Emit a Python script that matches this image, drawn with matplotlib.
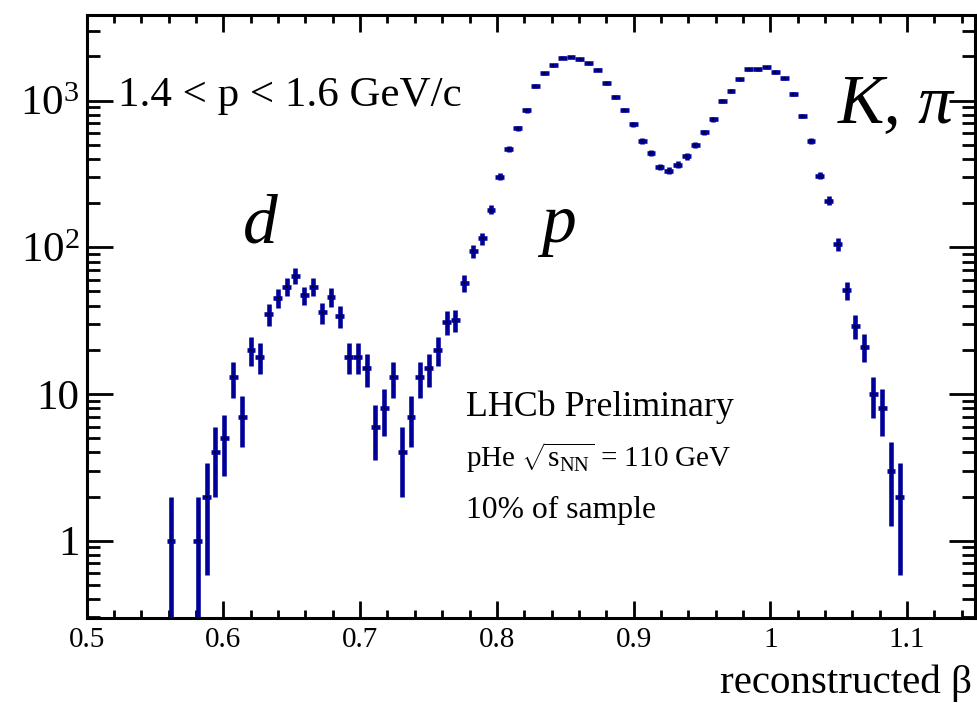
import numpy as np
import matplotlib
matplotlib.use("Agg")
import matplotlib.pyplot as plt
from matplotlib.ticker import FixedLocator, LogLocator, NullFormatter, MultipleLocator

# Histogram binning of reconstructed beta
beta_lo, beta_hi, n_bins = 0.5, 1.15, 100

# Entries per bin (1.4 < p < 1.6 GeV/c)
counts = [
    0, 0, 0, 0, 0, 0, 0, 0, 0, 1,
    0, 0, 1, 2, 4, 5, 13, 7, 20, 18,
    35, 45, 54, 64, 47, 54, 36, 46, 34, 18,
    18, 15, 6, 8, 13, 4, 7, 13, 15, 20,
    31, 32, 57, 94, 115, 181, 303, 466, 647, 859,
    1253, 1535, 1741, 1963, 1983, 1913, 1805, 1625, 1324, 1052,
    863, 689, 530, 442, 353, 333, 366, 417, 498, 608,
    746, 988, 1169, 1397, 1641, 1641, 1687, 1567, 1419, 1109,
    788, 533, 308, 208, 105, 51, 29, 21, 10, 8,
    3, 2, 0, 0, 0, 0, 0, 0, 0, 0,
]

y_ticks = [1, 10, 100, 1000]
y_tick_labels = ["1", "10", r"$10^{2}$", r"$10^{3}$"]
x_ticks = [0.5, 0.6, 0.7, 0.8, 0.9, 1.0, 1.1]
x_tick_labels = ["0.5", "0.6", "0.7", "0.8", "0.9", "1", "1.1"]

plt.rcParams["font.family"] = ["Liberation Serif", "DejaVu Serif"]
plt.rcParams["mathtext.fontset"] = "custom"
plt.rcParams["mathtext.rm"] = "Liberation Serif"
plt.rcParams["mathtext.it"] = "Liberation Serif:italic"

W, H = 977, 703
fig = plt.figure(figsize=(W / 100, H / 100), dpi=100)
ax_l, ax_r, ax_t, ax_b = 86.6, 975.5, 15.0, 618.3
ax = fig.add_axes([ax_l / W, 1 - ax_b / H, (ax_r - ax_l) / W, (ax_b - ax_t) / H])

edges = np.linspace(beta_lo, beta_hi, n_bins + 1)
centers = 0.5 * (edges[:-1] + edges[1:])
half_w = 0.5 * (edges[1] - edges[0])
n = np.array(counts, dtype=float)
sel = n > 0
x = centers[sel]
y = n[sel]
err = np.sqrt(y)
err_lo = np.minimum(err, y * (1 - 1e-6))

navy = "#000099"
ax.errorbar(x, y, xerr=half_w, yerr=[err_lo, err], fmt="none",
            ecolor=navy, elinewidth=3.3, capsize=0, zorder=3)
ax.plot(x, y, linestyle="none", marker="s", markersize=1.7,
        color="black", markeredgewidth=0, zorder=4)

ax.set_yscale("log")
ax.set_xlim(beta_lo, beta_hi)
ax.set_ylim(0.296, 3835)

ax.yaxis.set_major_locator(FixedLocator(y_ticks))
ax.set_yticklabels(y_tick_labels, fontsize=31)
ax.yaxis.set_minor_locator(LogLocator(base=10, subs=np.arange(2, 10)))
ax.yaxis.set_minor_formatter(NullFormatter())

ax.set_xticks(x_ticks)
ax.set_xticklabels(x_tick_labels, fontsize=21)
ax.xaxis.set_minor_locator(MultipleLocator(0.02))

ax.tick_params(which="both", direction="in", top=True, right=True, width=2.0)
ax.tick_params(axis="y", which="major", length=19, pad=5)
ax.tick_params(axis="y", which="minor", length=9.5)
ax.tick_params(axis="x", which="major", length=12, pad=6)
ax.tick_params(axis="x", which="minor", length=6)
for s in ax.spines.values():
    s.set_linewidth(2.2)

fig.text(972 / W, 1 - 693 / H, "reconstructed β", fontsize=29.5,
         ha="right", va="baseline")

def ftext(px, py, s, **kw):
    fig.text(px / W, 1 - py / H, s, ha="left", va="baseline", **kw)

ftext(118, 106, "1.4 < p < 1.6 GeV/c", fontsize=31)
ftext(243, 243, "d", fontsize=50, style="italic")
ftext(541, 242, "p", fontsize=50, style="italic")
ftext(838, 122, "K, π", fontsize=50, style="italic")
ftext(466, 416, "LHCb Preliminary", fontsize=25.8)
ftext(466, 467, r"pHe $\sqrt{\mathrm{s}_{\mathrm{NN}}}$ = 110 GeV", fontsize=21)
ftext(466, 518, "10% of sample", fontsize=22.8)

fig.savefig("out.png", dpi=100)
